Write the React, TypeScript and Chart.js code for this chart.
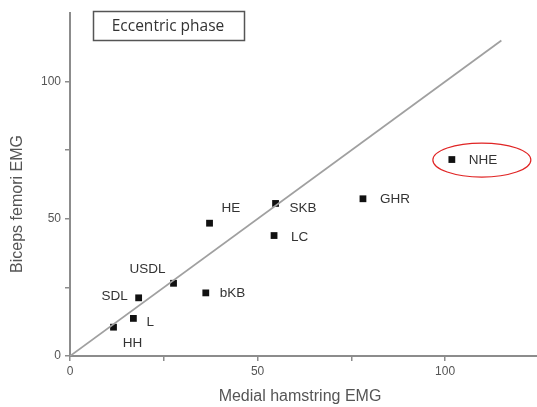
import React, { useEffect, useRef } from "react";
import { Chart, registerables } from "chart.js";

Chart.register(...registerables);

const exercises = ["HH", "L", "SDL", "USDL", "bKB", "HE", "SKB", "LC", "GHR", "NHE"];
const medialHamstringEMG = [11.6, 16.9, 18.3, 27.6, 36.2, 37.2, 54.8, 54.4, 78.1, 101.8];
const bicepsFemoriEMG = [10.5, 13.7, 21.2, 26.5, 23.0, 48.4, 55.6, 43.9, 57.3, 71.6];
const identityLine = [0, 115];
const majorTicks = [0, 50, 100];
const axisTicks = [0, 25, 50, 75, 100];
const chartTitle = "Eccentric phase";
const xTitle = "Medial hamstring EMG";
const yTitle = "Biceps femori EMG";
const highlighted = "NHE";

// label placement (pixels relative to the point): [dx, dy, align]
const labelPlacement: Record<string, [number, number, CanvasTextAlign]> = {
  HH: [19, 16, "center"],
  L: [13, 4, "left"],
  SDL: [-11, -2, "right"],
  USDL: [-26, -14, "center"],
  bKB: [14, 0, "left"],
  HE: [12, -15, "left"],
  SKB: [14, 5, "left"],
  LC: [17, 2, "left"],
  GHR: [17, 1, "left"],
  NHE: [17, 1, "left"],
};

const AXIS_COLOR = "#8c8c8c";
const TEXT_COLOR = "#555555";
const FONT = "'Liberation Sans', Arial, sans-serif";

const annotations = {
  id: "annotations",
  afterDatasetsDraw(chart: any) {
    const { ctx } = chart;
    const meta = chart.getDatasetMeta(1);
    ctx.save();
    // point labels
    ctx.fillStyle = "#333333";
    ctx.font = `13.5px ${FONT}`;
    ctx.textBaseline = "middle";
    meta.data.forEach((el: any, i: number) => {
      const name = exercises[i];
      const [dx, dy, align] = labelPlacement[name] || [12, 0, "left"];
      ctx.textAlign = align;
      ctx.fillText(name, el.x + dx, el.y + dy);
      if (name === highlighted) {
        ctx.strokeStyle = "#e02424";
        ctx.lineWidth = 1.2;
        ctx.beginPath();
        ctx.ellipse(el.x + 30, el.y + 0.5, 49, 17, 0, 0, Math.PI * 2);
        ctx.stroke();
      }
    });
    // title box
    ctx.strokeStyle = "#555555";
    ctx.lineWidth = 1.5;
    ctx.strokeRect(93.5, 11.5, 151, 29);
    ctx.fillStyle = "#333333";
    ctx.font = `15.5px 'Open Sans', sans-serif`;
    ctx.textAlign = "center";
    ctx.textBaseline = "middle";
    ctx.fillText(chartTitle, 168, 26.5);
    // axis titles
    ctx.fillStyle = TEXT_COLOR;
    ctx.font = `16px ${FONT}`;
    ctx.textAlign = "center";
    ctx.textBaseline = "middle";
    ctx.fillText(xTitle, 300, 397);
    ctx.translate(18, 204);
    ctx.rotate(-Math.PI / 2);
    ctx.fillText(yTitle, 0, 0);
    ctx.restore();
  },
};

export default function App() {
  const ref = useRef<HTMLCanvasElement>(null);
  useEffect(() => {
    document.body.style.margin = "0";
    const canvas = ref.current!;
    const scaleCommon = (pos: string, max: number) => ({
      type: "linear" as const,
      min: 0,
      max,
      afterBuildTicks: (s: any) => {
        s.ticks = axisTicks.map((v) => ({ value: v }));
      },
      border: { display: true, color: AXIS_COLOR, width: 2 },
      grid: {
        display: true,
        drawOnChartArea: false,
        drawTicks: true,
        tickLength: 5,
        tickColor: AXIS_COLOR,
        lineWidth: 1.5,
      },
      ticks: {
        autoSkip: false,
        color: TEXT_COLOR,
        font: { family: FONT, size: 12 },
        padding: pos === "x" ? 3 : 4,
        maxRotation: 0,
        callback: (v: any) => (majorTicks.includes(Number(v)) ? String(v) : ""),
      },
    });
    const chart = new Chart(canvas, {
      type: "scatter",
      data: {
        datasets: [
          {
            type: "line",
            data: identityLine.map((v) => ({ x: v, y: v })),
            borderColor: "#a0a0a0",
            borderWidth: 1.8,
            pointRadius: 0,
            fill: false,
          },
          {
            data: medialHamstringEMG.map((x, i) => ({ x, y: bicepsFemoriEMG[i] })),
            pointStyle: "rect",
            pointRadius: 4.8,
            backgroundColor: "#111111",
            borderColor: "#111111",
            borderWidth: 0,
          },
        ],
      },
      options: {
        animation: false,
        responsive: false,
        maintainAspectRatio: false,
        layout: { autoPadding: false, padding: { left: 0, right: 0, top: 13, bottom: 0 } },
        plugins: { legend: { display: false }, tooltip: { enabled: false }, title: { display: false } },
        scales: {
          x: {
            ...scaleCommon("x", 124.5),
            position: "bottom",
            afterFit: (s: any) => {
              s.height = 51;
            },
          },
          y: {
            ...scaleCommon("y", 125),
            position: "left",
            afterFit: (s: any) => {
              s.width = 70;
            },
          },
        },
      } as any,
      plugins: [annotations],
    });
    return () => chart.destroy();
  }, []);
  return (
    <div style={{ position: "absolute", left: 0, top: 0, width: 537, height: 407, background: "#fff" }}>
      <canvas ref={ref} width={537} height={407} style={{ display: "block" }} />
    </div>
  );
}
